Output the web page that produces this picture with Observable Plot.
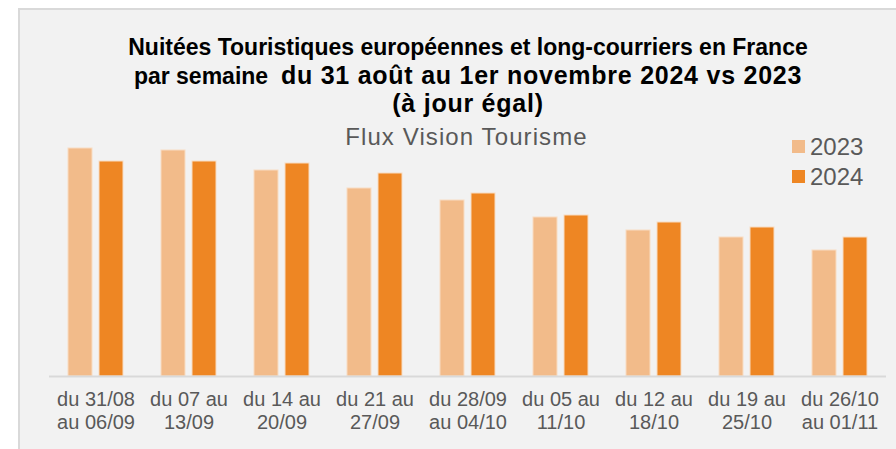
<!DOCTYPE html>
<html>
<head>
<meta charset="utf-8">
<script src="https://cdn.jsdelivr.net/npm/d3@7"></script>
<script src="https://cdn.jsdelivr.net/npm/@observablehq/plot@0.6"></script>
<style>
  html, body { margin: 0; padding: 0; background: #ffffff; overflow: hidden; }
  #wrap { position: relative; width: 896px; height: 449px; overflow: hidden; font-family: "Liberation Sans", Arial, sans-serif; }
  #frame { position: absolute; left: 18px; top: 8px; width: 900px; height: 470px; border: 2px solid #d9d9d9; background: #f2f2f2; box-sizing: border-box; }
  #chart { position: absolute; left: 0; top: 0; }
  .title { position: absolute; left: 0; width: 936px; text-align: center; font-weight: bold; font-size: 23px; color: #000; white-space: pre; line-height: 1; }
  .title .big { font-size: 25px; letter-spacing: 0.75px; }
  #sub { position: absolute; left: 0; width: 933px; text-align: center; font-size: 24px; letter-spacing: 1.1px; color: #595959; line-height: 1; white-space: pre; }
  .leg { position: absolute; left: 792px; font-size: 24px; color: #595959; line-height: 1; }
  .leg span.sw { position: absolute; left: 0; width: 13px; height: 13px; }
  .leg span.lb { position: absolute; left: 18px; white-space: pre; }
</style>
</head>
<body>
<div id="wrap">
  <div id="frame"></div>
  <div id="chart"></div>
</div>
<script>
const weeks = [
  "du 31/08\nau 06/09",
  "du 07 au\n13/09",
  "du 14 au\n20/09",
  "du 21 au\n27/09",
  "du 28/09\nau 04/10",
  "du 05 au\n11/10",
  "du 12 au\n18/10",
  "du 19 au\n25/10",
  "du 26/10\nau 01/11"
];
const years = ["2023", "2024"];
const values2023 = [228, 226, 206, 188, 176, 159, 146, 139, 126];
const values2024 = [215, 215, 213, 203, 183, 161, 154, 149, 139];
const colors = ["#f2bb8a", "#ee8623"];
const titleLine1 = "Nuitées Touristiques européennes et long-courriers en France";
const titleLine2a = "par semaine  ";
const titleLine2b = "du 31 août au 1er novembre 2024 vs 2023";
const titleLine3 = "(à jour égal)";
const subtitle = "Flux Vision Tourisme";

const data = [];
weeks.forEach((w, i) => {
  data.push({week: w, year: years[0], value: values2023[i]});
  data.push({week: w, year: years[1], value: values2024[i]});
});

const chart = Plot.plot({
  width: 896,
  height: 449,
  marginLeft: 49,
  marginRight: 10,
  marginTop: 76,
  marginBottom: 73,
  style: {background: "transparent", fontFamily: "'Liberation Sans', Arial, sans-serif"},
  fx: {domain: weeks, paddingInner: 0, paddingOuter: 0, label: null},
  x: {domain: years, paddingInner: 0.21, paddingOuter: 0.57, axis: null},
  y: {domain: [0, 300], axis: null},
  color: {domain: years, range: colors},
  marks: [
    Plot.barY(data, {fx: "week", x: "year", y: "value", fill: "year", stroke: "#f8dcc2", strokeWidth: 1}),
    Plot.ruleY([0], {stroke: "#d9d9d9", strokeWidth: 2}),
    Plot.axisFx({anchor: "bottom", tickSize: 0, tickPadding: 13, fontSize: 20, lineHeight: 1.15, fill: "#595959", label: null})
  ]
});
document.getElementById("chart").appendChild(chart);

const wrap = document.getElementById("wrap");
function addTitle(top, parts) {
  const d = document.createElement("div");
  d.className = "title";
  d.style.top = top + "px";
  parts.forEach(([txt, big]) => {
    const s = document.createElement("span");
    if (big) s.className = "big";
    s.textContent = txt;
    d.appendChild(s);
  });
  wrap.appendChild(d);
}
addTitle(36, [[titleLine1, false]]);
addTitle(63, [[titleLine2a, false], [titleLine2b, true]]);
addTitle(91, [[titleLine3, true]]);

const s = document.createElement("div");
s.id = "sub";
s.style.top = "125px";
s.textContent = subtitle;
wrap.appendChild(s);
years.forEach((y, i) => {
  const d = document.createElement("div");
  d.className = "leg";
  d.style.top = (137 + i * 30) + "px";
  d.innerHTML = '<span class="sw"></span><span class="lb"></span>';
  d.querySelector(".sw").style.background = colors[i];
  d.querySelector(".sw").style.top = "3px";
  d.querySelector(".lb").style.top = "-2px";
  d.querySelector(".lb").textContent = y;
  wrap.appendChild(d);
});
</script>
</body>
</html>
